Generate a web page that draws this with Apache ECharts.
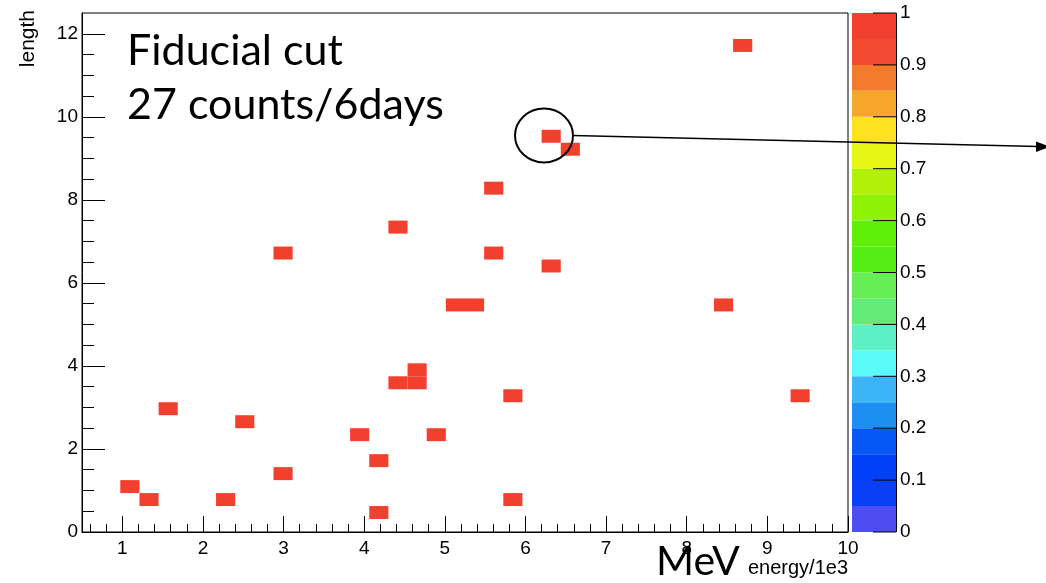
<!DOCTYPE html>
<html>
<head>
<meta charset="utf-8">
<script src="https://cdn.jsdelivr.net/npm/echarts@6/dist/echarts.min.js"></script>
<style>
  html, body { margin: 0; padding: 0; background: #fff; }
  #chart { width: 1046px; height: 583px; }
</style>
</head>
<body>
<div id="chart"></div>
<script>
// Events: energy (/1e3) and track length
const energy = [1.09, 1.33, 1.57, 2.28, 2.52, 2.99, 2.99, 3.94, 4.18, 4.18,
                4.42, 4.42, 4.66, 4.66, 4.89, 5.13, 5.37, 5.61, 5.61, 5.84,
                5.84, 6.32, 6.32, 6.56, 8.46, 8.69, 9.41];
const trackLength = [1.09, 0.78, 2.97, 0.78, 2.66, 1.41, 6.72, 2.34, 1.72, 0.47,
                     3.59, 7.34, 3.59, 3.91, 2.34, 5.47, 5.47, 6.72, 8.28, 3.28,
                     0.78, 6.41, 9.53, 9.22, 5.47, 11.72, 3.28];

// Histogram binning (40 x 40)
const xRange = [0.5, 10];
const yRange = [0, 12.5];
const nBinsX = 40;
const nBinsY = 40;

// Tick labels
const xTickLabels = [1, 2, 3, 4, 5, 6, 7, 8, 9, 10];
const yTickLabels = [0, 2, 4, 6, 8, 10, 12];
const zTickLabels = [0, 0.1, 0.2, 0.3, 0.4, 0.5, 0.6, 0.7, 0.8, 0.9, 1];

// Colour palette, 20 contour levels from 0 to 1
const palette = [
  '#4D4DF2', '#0A40F5', '#0040F8', '#0658F5', '#1C8FF2',
  '#3AB5F7', '#5AFAFA', '#5CF0C4', '#62EC78', '#66EE55',
  '#52EE14', '#5EF00A', '#8EF205', '#B0F00A', '#E5F514',
  '#FDE31F', '#F6A72A', '#F47A2C', '#F24A30', '#F2402F'
];

const zMax = 1;
const bwX = (xRange[1] - xRange[0]) / nBinsX;
const bwY = (yRange[1] - yRange[0]) / nBinsY;

// fill the histogram
const counts = {};
for (let i = 0; i < energy.length; i++) {
  const kx = Math.floor((energy[i] - xRange[0]) / bwX);
  const ky = Math.floor((trackLength[i] - yRange[0]) / bwY);
  const key = kx + ',' + ky;
  counts[key] = (counts[key] || 0) + 1;
}
const cells = Object.keys(counts).map(function (key) {
  const p = key.split(',').map(Number);
  const x0 = xRange[0] + p[0] * bwX;
  const y0 = yRange[0] + p[1] * bwY;
  return [x0, y0, x0 + bwX, y0 + bwY, counts[key]];
});

function colorOf(v) {
  const idx = Math.min(palette.length - 1, Math.floor(v / zMax * palette.length));
  return palette[Math.max(0, idx)];
}

const bands = palette.map(function (c, i) {
  return [i / palette.length * zMax, (i + 1) / palette.length * zMax, i];
});

// minor tick positions
const xMinor = [];
for (let i = 3; i <= 49; i++) {
  const v = i * 0.2;
  if (Math.abs(v - Math.round(v)) > 1e-6) xMinor.push(+v.toFixed(2));
}
const yMinor = [];
for (let i = 1; i <= 24; i++) {
  const v = i * 0.5;
  if (i % 4 !== 0) yMinor.push(v);
}

const axisFont = { fontFamily: 'Liberation Sans', fontSize: 19, color: '#000' };
const black = { color: '#000', width: 1 };
const paletteTickLen = 23;

const chart = echarts.init(document.getElementById('chart'), null, { renderer: 'canvas' });

chart.setOption({
  animation: false,
  backgroundColor: '#fff',
  grid: [
    { left: 82, top: 13, width: 766, height: 519, show: true,
      borderColor: '#000', borderWidth: 1, backgroundColor: 'transparent' },
    { left: 852, top: 13, width: 44, height: 519, show: false }
  ],
  xAxis: [
    { type: 'value', gridIndex: 0, min: xRange[0], max: xRange[1], position: 'bottom',
      axisLine: { show: true, onZero: false, lineStyle: black },
      axisTick: { show: true, inside: true, length: 16, customValues: xTickLabels, lineStyle: black },
      axisLabel: { show: true, customValues: xTickLabels, margin: 7, ...axisFont },
      splitLine: { show: false } },
    { type: 'value', gridIndex: 0, min: xRange[0], max: xRange[1], position: 'bottom',
      axisLine: { show: false, onZero: false },
      axisTick: { show: true, inside: true, length: 8, customValues: xMinor, lineStyle: black },
      axisLabel: { show: false }, splitLine: { show: false } },
    { type: 'value', gridIndex: 1, min: 0, max: 1, show: false,
      axisLine: { onZero: false } }
  ],
  yAxis: [
    { type: 'value', gridIndex: 0, min: yRange[0], max: yRange[1], position: 'left',
      axisLine: { show: true, onZero: false, lineStyle: black },
      axisTick: { show: true, inside: true, length: 23, customValues: yTickLabels, lineStyle: black },
      axisLabel: { show: true, customValues: yTickLabels, margin: 4, ...axisFont },
      splitLine: { show: false } },
    { type: 'value', gridIndex: 0, min: yRange[0], max: yRange[1], position: 'left',
      axisLine: { show: false, onZero: false },
      axisTick: { show: true, inside: true, length: 12, customValues: yMinor, lineStyle: black },
      axisLabel: { show: false }, splitLine: { show: false } },
    // palette axis: labels only, its line and ticks are drawn over the bands below
    { type: 'value', gridIndex: 1, min: 0, max: zMax, interval: 0.1, position: 'right',
      axisLine: { show: false, onZero: false },
      axisTick: { show: false },
      axisLabel: { show: true, customValues: zTickLabels, margin: 4, ...axisFont,
        formatter: function (v) { return String(+v.toFixed(2)); } },
      splitLine: { show: false } }
  ],
  series: [
    {
      type: 'custom', xAxisIndex: 0, yAxisIndex: 0, z: 3,
      data: cells,
      renderItem: function (params, api) {
        const a = api.coord([api.value(0), api.value(3)]);
        const b = api.coord([api.value(2), api.value(1)]);
        return {
          type: 'rect',
          shape: { x: a[0], y: a[1], width: b[0] - a[0], height: b[1] - a[1] },
          style: { fill: colorOf(api.value(4)) }
        };
      }
    },
    {
      type: 'custom', xAxisIndex: 2, yAxisIndex: 2, z: 1,
      data: bands,
      renderItem: function (params, api) {
        const a = api.coord([0, api.value(1)]);
        const b = api.coord([1, api.value(0)]);
        return {
          type: 'rect',
          shape: { x: a[0], y: a[1], width: b[0] - a[0], height: b[1] - a[1] },
          style: { fill: palette[api.value(2)] }
        };
      }
    },
    {
      // palette axis line and tick marks
      type: 'custom', xAxisIndex: 2, yAxisIndex: 2, z: 4,
      data: zTickLabels.map(function (v) { return [v]; }),
      renderItem: function (params, api) {
        const p = api.coord([1, api.value(0)]);
        const children = [{
          type: 'line',
          shape: { x1: p[0] - paletteTickLen, y1: p[1], x2: p[0], y2: p[1] },
          style: { stroke: '#000', lineWidth: 1 }
        }];
        if (params.dataIndex === 0) {
          const top = api.coord([1, zMax]);
          children.push({
            type: 'line',
            shape: { x1: p[0] + 0.5, y1: top[1], x2: p[0] + 0.5, y2: p[1] },
            style: { stroke: '#000', lineWidth: 1 }
          });
        }
        return { type: 'group', children: children };
      }
    }
  ],
  graphic: [
    { type: 'text', x: 28, y: 10, rotation: Math.PI / 2, z: 10,
      style: { text: 'length', fontFamily: 'Liberation Sans', fontSize: 21, fill: '#000',
        align: 'right', verticalAlign: 'middle' } },
    { type: 'text', x: 848, y: 568, z: 10,
      style: { text: 'energy/1e3', fontFamily: 'Liberation Sans', fontSize: 20, fill: '#000',
        align: 'right', verticalAlign: 'middle' } },
    { type: 'text', x: 656, y: 562, z: 10,
      style: { text: 'MeV', fontFamily: 'Lato', fontSize: 41, fill: '#000',
        align: 'left', verticalAlign: 'middle' } },
    { type: 'text', x: 127, y: 51, z: 10,
      style: { text: 'Fiducial cut', fontFamily: 'Lato', fontSize: 43, fill: '#000',
        align: 'left', verticalAlign: 'middle' } },
    { type: 'text', x: 127, y: 105, z: 10,
      style: { text: '27 counts/6days', fontFamily: 'Lato', fontSize: 43, fill: '#000',
        align: 'left', verticalAlign: 'middle' } },
    { type: 'ellipse', zlevel: 2, shape: { cx: 544, cy: 135.5, rx: 29, ry: 27 },
      style: { fill: 'none', stroke: '#000', lineWidth: 2 } },
    { type: 'line', zlevel: 2, shape: { x1: 573, y1: 135.5, x2: 1038, y2: 146.5 },
      style: { stroke: '#000', lineWidth: 1.3 } },
    { type: 'polygon', zlevel: 2, shape: { points: [[1050, 146.8], [1036, 141.5], [1036, 152]] },
      style: { fill: '#000' } }
  ]
});
</script>
</body>
</html>
